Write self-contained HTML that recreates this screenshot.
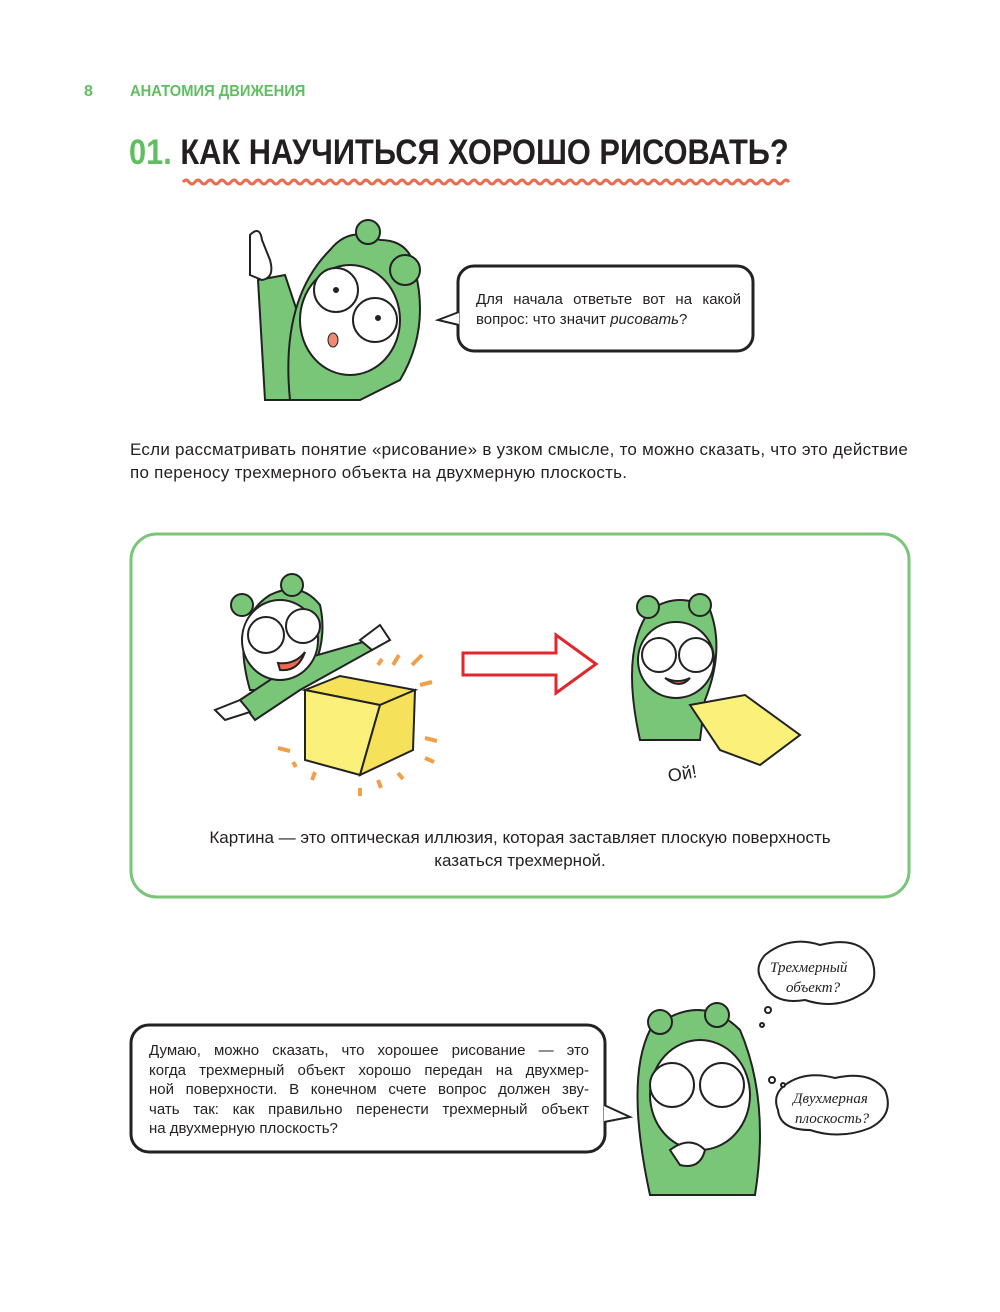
<!DOCTYPE html>
<html><head><meta charset="utf-8"><style>
body{margin:0;background:#fff;}
#p{position:relative;width:1000px;height:1312px;font-family:"Liberation Sans",sans-serif;color:#231f20;overflow:hidden;}
.a{position:absolute;}
.t{font-size:15px;line-height:19.5px;}
.j{text-align:justify;text-align-last:justify;white-space:nowrap;}
</style></head><body><div id="p">
<div class="a" style="left:84px;top:83px;font-size:16px;font-weight:bold;color:#5fbf60;">8</div>
<div class="a" style="left:130px;top:83px;font-size:16px;font-weight:bold;color:#5fbf60;transform:scaleX(0.92);transform-origin:0 0;white-space:nowrap;">АНАТОМИЯ ДВИЖЕНИЯ</div>
<div class="a" style="left:129px;top:133px;font-size:35px;font-weight:bold;white-space:nowrap;transform:scaleX(0.88);transform-origin:0 0;"><span style="color:#5fbf60">01.</span> КАК НАУЧИТЬСЯ ХОРОШО РИСОВАТЬ?</div>
<svg class="a" style="left:0;top:0" width="1000" height="1312">
<path d="M183 182 Q186 178 189 182 T195 182 T201 182 T207 182 T213 182 T219 182 T225 182 T231 182 T237 182 T243 182 T249 182 T255 182 T261 182 T267 182 T273 182 T279 182 T285 182 T291 182 T297 182 T303 182 T309 182 T315 182 T321 182 T327 182 T333 182 T339 182 T345 182 T351 182 T357 182 T363 182 T369 182 T375 182 T381 182 T387 182 T393 182 T399 182 T405 182 T411 182 T417 182 T423 182 T429 182 T435 182 T441 182 T447 182 T453 182 T459 182 T465 182 T471 182 T477 182 T483 182 T489 182 T495 182 T501 182 T507 182 T513 182 T519 182 T525 182 T531 182 T537 182 T543 182 T549 182 T555 182 T561 182 T567 182 T573 182 T579 182 T585 182 T591 182 T597 182 T603 182 T609 182 T615 182 T621 182 T627 182 T633 182 T639 182 T645 182 T651 182 T657 182 T663 182 T669 182 T675 182 T681 182 T687 182 T693 182 T699 182 T705 182 T711 182 T717 182 T723 182 T729 182 T735 182 T741 182 T747 182 T753 182 T759 182 T765 182 T771 182 T777 182 T783 182 T789 182" fill="none" stroke="#ef6b4f" stroke-width="3"/>
<g stroke="#222" stroke-width="2">
<path d="M258 280 L285 275 L310 350 L300 400 L265 400 Z" fill="#79c679"/>
<path d="M290 400 Q280 300 330 250 Q350 225 380 240 Q410 240 415 270 Q430 330 400 380 L360 400 Z" fill="#79c679"/>
<circle cx="368" cy="232" r="12" fill="#79c679"/><circle cx="405" cy="270" r="15" fill="#79c679"/>
<ellipse cx="350" cy="320" rx="50" ry="55" fill="#fff"/>
<circle cx="336" cy="290" r="22" fill="#fff"/><circle cx="375" cy="320" r="22" fill="#fff"/>
<path d="M250 275 L250 235 Q260 225 262 240 L270 260 Q275 278 262 280 Z" fill="#fff"/>
</g>
<circle cx="336" cy="290" r="3" fill="#222"/><circle cx="378" cy="318" r="3" fill="#222"/>
<ellipse cx="333" cy="340" rx="5" ry="7" fill="#ef8a70" stroke="#222"/>
<rect x="458" y="266" width="295" height="85" rx="16" fill="#fff" stroke="#222" stroke-width="3"/>
<path d="M459 312 L438 320 L459 325" fill="#fff" stroke="#222" stroke-width="2"/>
<rect x="131" y="534" width="778" height="363" rx="26" fill="none" stroke="#79c679" stroke-width="3"/>
<g stroke="#222" stroke-width="2">
<path d="M250 690 Q230 620 270 595 Q300 580 320 605 Q330 650 300 690 Z" fill="#79c679"/>
<circle cx="242" cy="605" r="11" fill="#79c679"/><circle cx="292" cy="585" r="11" fill="#79c679"/>
<path d="M240 700 L300 660 L370 640 L372 650 L300 690 L255 720 Z" fill="#79c679"/>
<ellipse cx="280" cy="640" rx="38" ry="40" fill="#fff"/>
<circle cx="266" cy="635" r="18" fill="#fff"/><circle cx="303" cy="626" r="17" fill="#fff"/>
<path d="M278 663 Q295 665 305 652 Q298 672 280 670Z" fill="#ef6b4f"/>
<path d="M305 690 L340 676 L415 690 L380 705 Z" fill="#f5e25a"/>
<path d="M305 690 L380 705 L360 775 L305 760 Z" fill="#fbf07a"/>
<path d="M380 705 L415 690 L413 750 L360 775 Z" fill="#f5e25a"/>
<path d="M360 640 L380 625 L390 640 L372 650Z" fill="#fff"/>
<path d="M240 700 L215 710 L225 720 L250 712Z" fill="#fff"/>
</g>
<g stroke="#f0a04a" stroke-width="4"><path d="M378 665 l4-6 M393 665 l6-10 M412 665 l10-10 M420 685 l12-3 M278 748 l12 3 M425 738 l12 3 M293 762 l3 5 M315 772 l-3 8 M360 788 l0 8 M378 780 l3 8 M398 773 l5 6 M425 758 l9 4"/></g>
<path d="M463 653 L556 653 L556 635 L596 664 L556 693 L556 675 L463 675 Z" fill="#fff" stroke="#e3262c" stroke-width="3"/>
<g stroke="#222" stroke-width="2">
<path d="M640 740 Q620 650 650 610 Q680 590 710 610 Q725 650 705 700 L700 740 Z" fill="#79c679"/>
<circle cx="648" cy="607" r="11" fill="#79c679"/><circle cx="700" cy="605" r="11" fill="#79c679"/>
<ellipse cx="676" cy="660" rx="38" ry="38" fill="#fff"/>
<circle cx="659" cy="655" r="17" fill="#fff"/><circle cx="696" cy="655" r="17" fill="#fff"/>
<path d="M665 678 Q678 684 690 678 Q680 690 665 678Z" fill="#ef6b4f"/>
<path d="M690 705 L745 695 L800 735 L760 765 L720 750 Z" fill="#fbf07a"/>
</g>
<text x="668" y="780" font-family="Liberation Sans" font-size="18" fill="#222" transform="rotate(-10 680 775)">Ой!</text>
<rect x="131" y="1025" width="474" height="127" rx="18" fill="#fff" stroke="#222" stroke-width="3"/>
<path d="M604 1105 L630 1117 L604 1122" fill="#fff" stroke="#222" stroke-width="2"/>
<g stroke="#222" stroke-width="2">
<path d="M650 1195 Q625 1080 650 1030 Q700 990 740 1030 Q770 1100 755 1195 Z" fill="#79c679"/>
<circle cx="660" cy="1022" r="12" fill="#79c679"/><circle cx="717" cy="1015" r="12" fill="#79c679"/>
<ellipse cx="700" cy="1095" rx="50" ry="55" fill="#fff"/>
<circle cx="672" cy="1085" r="22" fill="#fff"/><circle cx="722" cy="1085" r="22" fill="#fff"/>
<path d="M670 1150 Q690 1135 705 1150 Q700 1170 680 1165Z" fill="#fff"/>
</g>
<g stroke="#222" stroke-width="2" fill="#fff">
<path d="M765 955 Q790 935 820 945 Q860 935 872 960 Q880 985 860 995 Q835 1010 805 1000 Q775 1005 765 985 Q752 970 765 955Z"/>
<path d="M785 1085 Q805 1070 835 1078 Q870 1070 885 1090 Q895 1115 870 1128 Q840 1140 810 1130 Q780 1130 778 1110 Q772 1095 785 1085Z"/>
<circle cx="768" cy="1010" r="3"/><circle cx="762" cy="1025" r="2"/><circle cx="772" cy="1080" r="3"/><circle cx="783" cy="1085" r="2"/>
</g>
<text x="770" y="972" font-family="Liberation Serif" font-style="italic" font-size="15" fill="#222">Трехмерный</text>
<text x="786" y="992" font-family="Liberation Serif" font-style="italic" font-size="15" fill="#222">объект?</text>
<text x="793" y="1103" font-family="Liberation Serif" font-style="italic" font-size="15" fill="#222">Двухмерная</text>
<text x="795" y="1123" font-family="Liberation Serif" font-style="italic" font-size="15" fill="#222">плоскость?</text>
</svg>
<div class="a t" style="left:476px;top:290px;width:265px;text-align:justify;text-align-last:left;">Для начала ответьте вот на какой вопрос: что значит <i>рисовать</i>?</div>
<div class="a" style="left:130px;top:438px;width:800px;font-size:17px;line-height:23px;white-space:nowrap;letter-spacing:0.25px;">Если рассматривать понятие «рисование» в узком смысле, то можно сказать, что это действие<br>по переносу трехмерного объекта на двухмерную плоскость.</div>
<div class="a" style="left:140px;top:826px;width:760px;font-size:17px;line-height:23px;text-align:center;">Картина — это оптическая иллюзия, которая заставляет плоскую поверхность<br>казаться трехмерной.</div>
<div class="a t" style="left:149px;top:1041px;width:440px;">
<div class="j">Думаю, можно сказать, что хорошее рисование — это</div>
<div class="j">когда трехмерный объект хорошо передан на двухмер-</div>
<div class="j">ной поверхности. В конечном счете вопрос должен зву-</div>
<div class="j">чать так: как правильно перенести трехмерный объект</div>
<div>на двухмерную плоскость?</div>
</div>
</div></body></html>
